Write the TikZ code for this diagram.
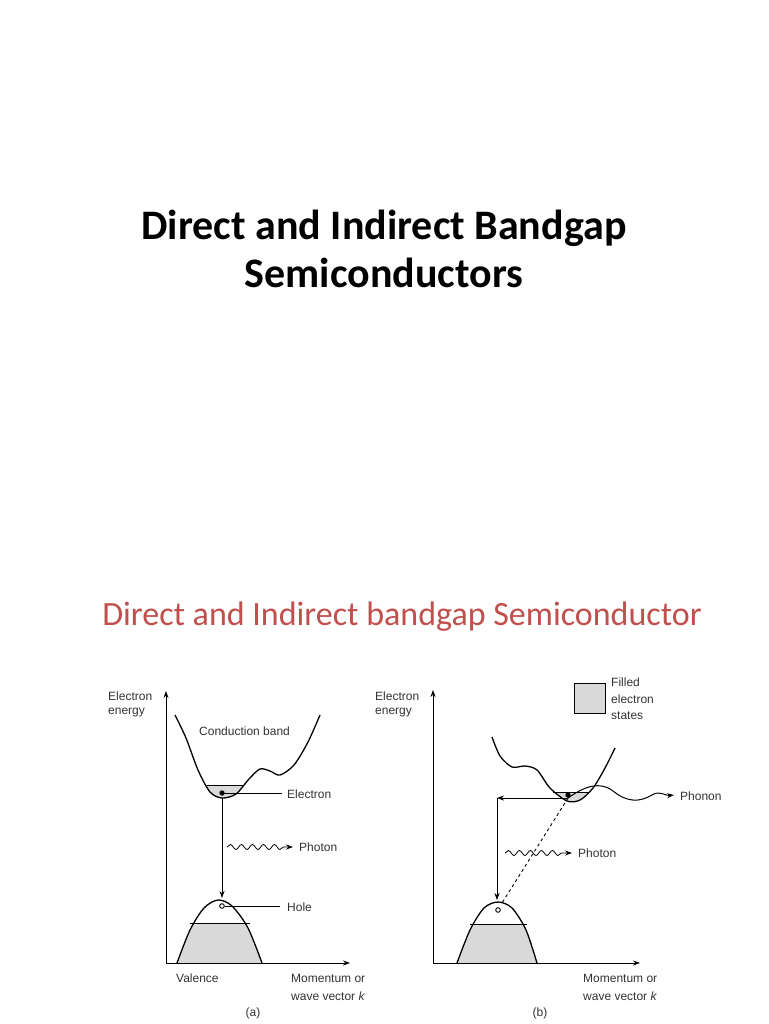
\documentclass[tikz,border=0pt]{standalone}
\usepackage{fontspec}
\setmainfont{Carlito}
\newfontfamily\lab{Liberation Sans}
\usetikzlibrary{decorations.pathmorphing,arrows.meta,patterns}
\begin{document}
\begin{tikzpicture}[x=1pt,y=-1pt,
  lbl/.style={font=\lab\fontsize{12}{14}\selectfont,inner sep=0pt,anchor=west,text=black!80},
  ax/.style={line width=0.9pt,-{Stealth[length=7pt,width=5pt]}},
  band/.style={line width=1.3pt},
  thin/.style={line width=0.9pt},
  arr/.style={line width=0.7pt,-{Stealth[length=7pt,width=5pt]}},
  wav/.style={line width=0.8pt,decorate,decoration={snake,segment length=11pt,amplitude=2.5pt,post length=8pt},-{Stealth[length=7pt,width=5pt]}},
  dots/.style={fill=gray!30}]
\useasboundingbox[fill=white] (0,0) rectangle (768,1024);
\node[font=\bfseries\fontsize{42}{48}\selectfont,align=center] (t) at (384,249) {Direct and Indirect Bandgap\\Semiconductors};
\node[font=\fontsize{34}{40}\selectfont,text={rgb,255:red,192;green,80;blue,77}] (st) at (402,617) {Direct and Indirect bandgap Semiconductor};
% ---------- (a)
\coordinate (ay0) at (166,963); \coordinate (ay1) at (166,691); \coordinate (ax1) at (350,963);
\draw[ax] (ay0) -- (ay1);
\draw[ax] (ay0) -- (ax1);
\node[lbl] (ae1) at (108,696) {Electron};
\node[lbl] (ae2) at (108,713) {energy};
\def\acb{(175,715) (186,738) (198,770) (210,792) (222,798) (236,794) (249,779) (260,769) (270,771) (280,775) (294,765) (308,742) (320,715)}
\begin{scope}\clip plot[smooth] coordinates {\acb} -- (320,600) -- (175,600) -- cycle;
\fill[dots] (195,785) rectangle (255,810);\end{scope}
\draw[thin] (207,785) -- (243,785);
\draw[band] plot[smooth] coordinates {\acb};
\node[lbl] (acb) at (199,731) {Conduction band};
\fill (222,793) circle (2.7pt);
\coordinate (ae) at (222,793);
\draw[line width=1pt] (ae) -- (282,793);
\node[lbl] (ael) at (287,794) {Electron};
\draw[arr] (222,798) -- (222,898);
\draw[wav] (227,847) -- (293,847);
\node[lbl] (aph) at (299,847) {Photon};
\def\avb{(177,963) (190,930) (204,908) (218,900) (232,906) (248,928) (262,963)}
\begin{scope}\clip plot[smooth] coordinates {\avb} -- cycle;
\fill[dots] (170,923) rectangle (270,963);\end{scope}
\draw[thin] (190,923) -- (250,923);
\draw[band] plot[smooth] coordinates {\avb};
\draw[thin] (222,906) circle (2.3pt);
\draw[thin] (224.5,906) -- (280,906);
\node[lbl] (ah) at (287,907) {Hole};
\node[lbl] (av) at (176,978) {Valence};
\node[lbl] (am1) at (291,978) {Momentum or};
\node[lbl] (am2) at (291,996) {wave vector \textit{k}};
\node[lbl,anchor=center] (a) at (253,1013) {(a)};
% ---------- (b)
\coordinate (by0) at (433,963); \coordinate (by1) at (433,690); \coordinate (bx1) at (640,963);
\draw[ax] (by0) -- (by1);
\draw[ax] (by0) -- (bx1);
\node[lbl] (be1) at (375,696) {Electron};
\node[lbl] (be2) at (375,713) {energy};
\draw[thin,dots] (574,683) rectangle (605,713);
\node[lbl] (f1) at (611,682) {Filled};
\node[lbl] (f2) at (611,699) {electron};
\node[lbl] (f3) at (611,716) {states};
\def\bcb{(492,737) (500,756) (512,767) (525,766) (537,770) (550,788) (567,801) (580,800) (593,788) (605,768) (615,748)}
\begin{scope}\clip plot[smooth] coordinates {\bcb} -- (615,600) -- (492,600) -- cycle;
\fill[dots] (545,792) rectangle (595,810);\end{scope}
\draw[thin] (553,792) -- (589,792);
\draw[band] plot[smooth] coordinates {\bcb};
\fill (568,795) circle (2.7pt);
\coordinate (be) at (568,798);
\draw[line width=1pt,-{Stealth[length=7pt,width=5pt]}] (be) .. controls (585,786) and (600,781) .. (613,791) .. controls (628,803) and (640,802) .. (652,795) .. controls (660,790) and (665,796) .. (674,795);
\node[lbl] (bph) at (680,796) {Phonon};
\coordinate (bc) at (497,798);
\draw[arr] (be) -- (bc);
\draw[arr] (bc) -- (497,900);
\draw[thin,dashed] (be) -- (502,903);
\draw[wav] (505,853) -- (572,853);
\node[lbl] (bpt) at (578,853) {Photon};
\def\bvb{(457,963) (470,930) (484,908) (498,902) (512,908) (526,930) (537,963)}
\begin{scope}\clip plot[smooth] coordinates {\bvb} -- cycle;
\fill[dots] (450,924) rectangle (545,963);\end{scope}
\draw[thin] (470,924) -- (527,924);
\draw[band] plot[smooth] coordinates {\bvb};
\draw[thin] (498,910) circle (2.3pt);
\node[lbl] (bm1) at (583,978) {Momentum or};
\node[lbl] (bm2) at (583,996) {wave vector \textit{k}};
\node[lbl,anchor=center] (b) at (540,1013) {(b)};
\end{tikzpicture}
\end{document}
